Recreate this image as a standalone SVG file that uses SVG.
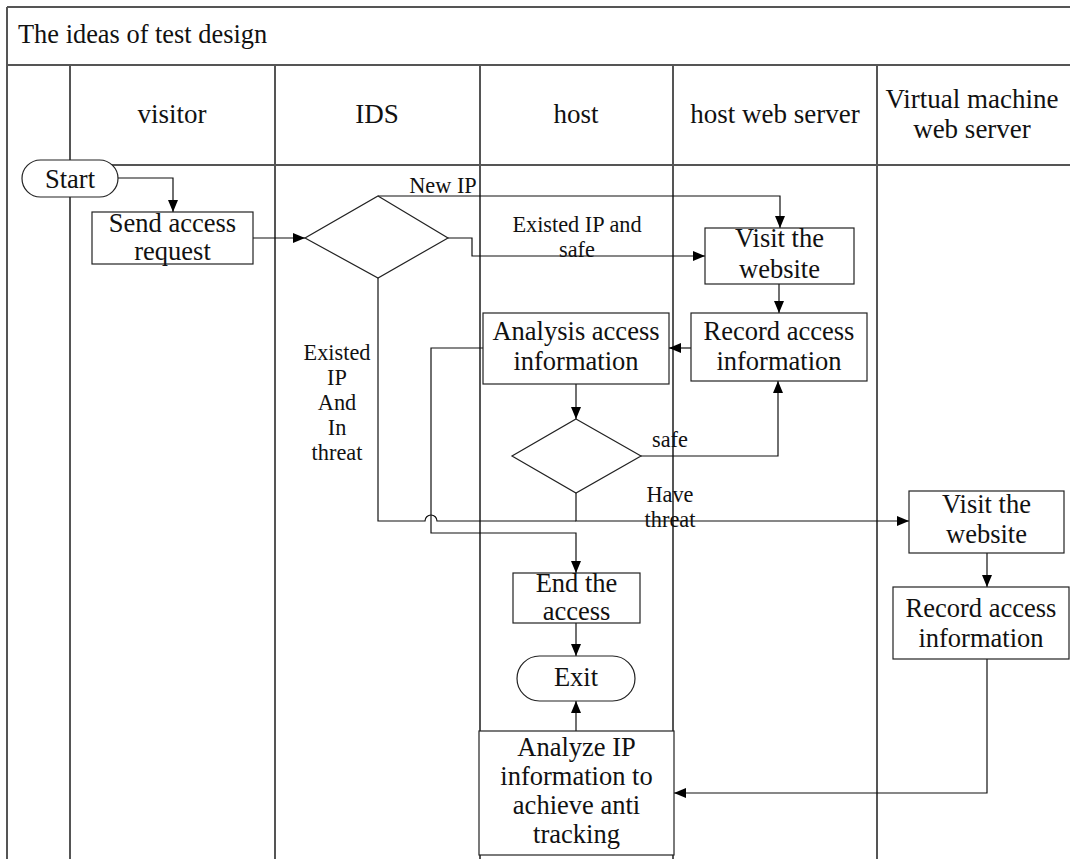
<svg xmlns="http://www.w3.org/2000/svg" width="1070" height="859" viewBox="0 0 1070 859">
<defs>
<marker id="ah" viewBox="0 0 12 10" refX="12" refY="5" markerWidth="12" markerHeight="10" markerUnits="userSpaceOnUse" orient="auto">
<path d="M0,0 L12,5 L0,10 Z" fill="#000"/>
</marker>
<style>
.lane{stroke:#555;stroke-width:2;fill:none}
.box{fill:#fff;stroke:#222;stroke-width:1.2}
.c{fill:none;stroke:#111;stroke-width:1.2}
.ca{fill:none;stroke:#111;stroke-width:1.2;marker-end:url(#ah)}
text{fill:#111}
.t{font-size:26.5px;text-anchor:middle}
.h{font-size:27px;text-anchor:middle}
.l{font-size:22.3px;text-anchor:middle}
</style>
</defs>
<rect width="1070" height="859" fill="#fff"/>
<g font-family="Liberation Serif, Tinos, Times New Roman, DejaVu Serif, serif">
<g id="frame">
<path class="lane" d="M7,7 H1070 M7,65 H1070 M70,165 H1070 M7,7 V859 M70,65 V859 M275,65 V859 M480,65 V859 M673,65 V859 M877,65 V859"/>
<text x="18" y="43" font-size="26.4">The ideas of test design</text>
<text class="h" x="172" y="123">visitor</text>
<text class="h" x="377" y="123">IDS</text>
<text class="h" x="576" y="123">host</text>
<text class="h" x="775" y="123">host web server</text>
<text class="h" x="972" y="108">Virtual machine</text>
<text class="h" x="972" y="138">web server</text>
</g>
<g id="connectors">
<path class="ca" d="M118,178 H173 V212"/>
<path class="ca" d="M253,238 H305"/>
<path class="ca" d="M378,196 H780 V228"/>
<path class="ca" d="M448,238 H472 V256 H705"/>
<path class="ca" d="M779,284 V313"/>
<path class="ca" d="M691,348 H669"/>
<path class="ca" d="M576,384 V419"/>
<path class="ca" d="M641,456 H778 V381"/>
<path class="ca" d="M576,493 V521 H909"/>
<path class="c" d="M378,278 V521 H425 A6,6 0 0 1 437,521 H576"/>
<path class="ca" d="M483,348 H431 V533 H576 V573"/>
<path class="ca" d="M576,623 V656"/>
<path class="ca" d="M576,731 V701"/>
<path class="ca" d="M987,553 V587"/>
<path class="ca" d="M987,659 V793 H674"/>
<text class="l" x="443" y="193">New IP</text>
<text class="l" x="577" y="232">Existed IP and</text>
<text class="l" x="577" y="257">safe</text>
<text class="l" x="337" y="360">Existed</text>
<text class="l" x="337" y="385">IP</text>
<text class="l" x="337" y="410">And</text>
<text class="l" x="337" y="435">In</text>
<text class="l" x="337" y="460">threat</text>
<text class="l" x="670" y="447">safe</text>
<text class="l" x="670" y="502">Have</text>
<text class="l" x="670" y="527">threat</text>
</g>
<g id="start">
<rect class="box" x="22" y="160" width="96" height="37" rx="18.5"/>
<text class="t" x="70" y="188">Start</text>
</g>
<g id="send">
<rect class="box" x="92" y="212" width="161" height="52"/>
<text class="t" x="172.5" y="232">Send access</text>
<text class="t" x="172.5" y="260">request</text>
</g>
<g id="ids-decision">
<polygon class="box" points="378,196 448,238 378,278 305,238"/>
</g>
<g id="host-visit">
<rect class="box" x="705" y="228" width="149" height="56"/>
<text class="t" x="779.5" y="247">Visit the</text>
<text class="t" x="779.5" y="278">website</text>
</g>
<g id="host-record">
<rect class="box" x="691" y="313" width="176" height="68"/>
<text class="t" x="779" y="340">Record access</text>
<text class="t" x="779" y="370">information</text>
</g>
<g id="analysis">
<rect class="box" x="483" y="313" width="186" height="71"/>
<text class="t" x="576" y="340">Analysis access</text>
<text class="t" x="576" y="370">information</text>
</g>
<g id="host-decision">
<polygon class="box" points="576,419 641,456 576,493 512,456"/>
</g>
<g id="end">
<rect class="box" x="513" y="573" width="127" height="50"/>
<text class="t" x="576.5" y="592">End the</text>
<text class="t" x="576.5" y="620">access</text>
</g>
<g id="exit">
<rect class="box" x="517" y="656" width="118" height="45" rx="22.5"/>
<text class="t" x="576" y="686">Exit</text>
</g>
<g id="analyze-ip">
<rect class="box" x="479" y="731" width="195" height="124"/>
<text class="t" x="576.5" y="756">Analyze IP</text>
<text class="t" x="576.5" y="785">information to</text>
<text class="t" x="576.5" y="814">achieve anti</text>
<text class="t" x="576.5" y="843">tracking</text>
</g>
<g id="vm-visit">
<rect class="box" x="909" y="491" width="155" height="62"/>
<text class="t" x="986.5" y="513">Visit the</text>
<text class="t" x="986.5" y="543">website</text>
</g>
<g id="vm-record">
<rect class="box" x="893" y="587" width="176" height="72"/>
<text class="t" x="981" y="617">Record access</text>
<text class="t" x="981" y="647">information</text>
</g>
</g>
</svg>
